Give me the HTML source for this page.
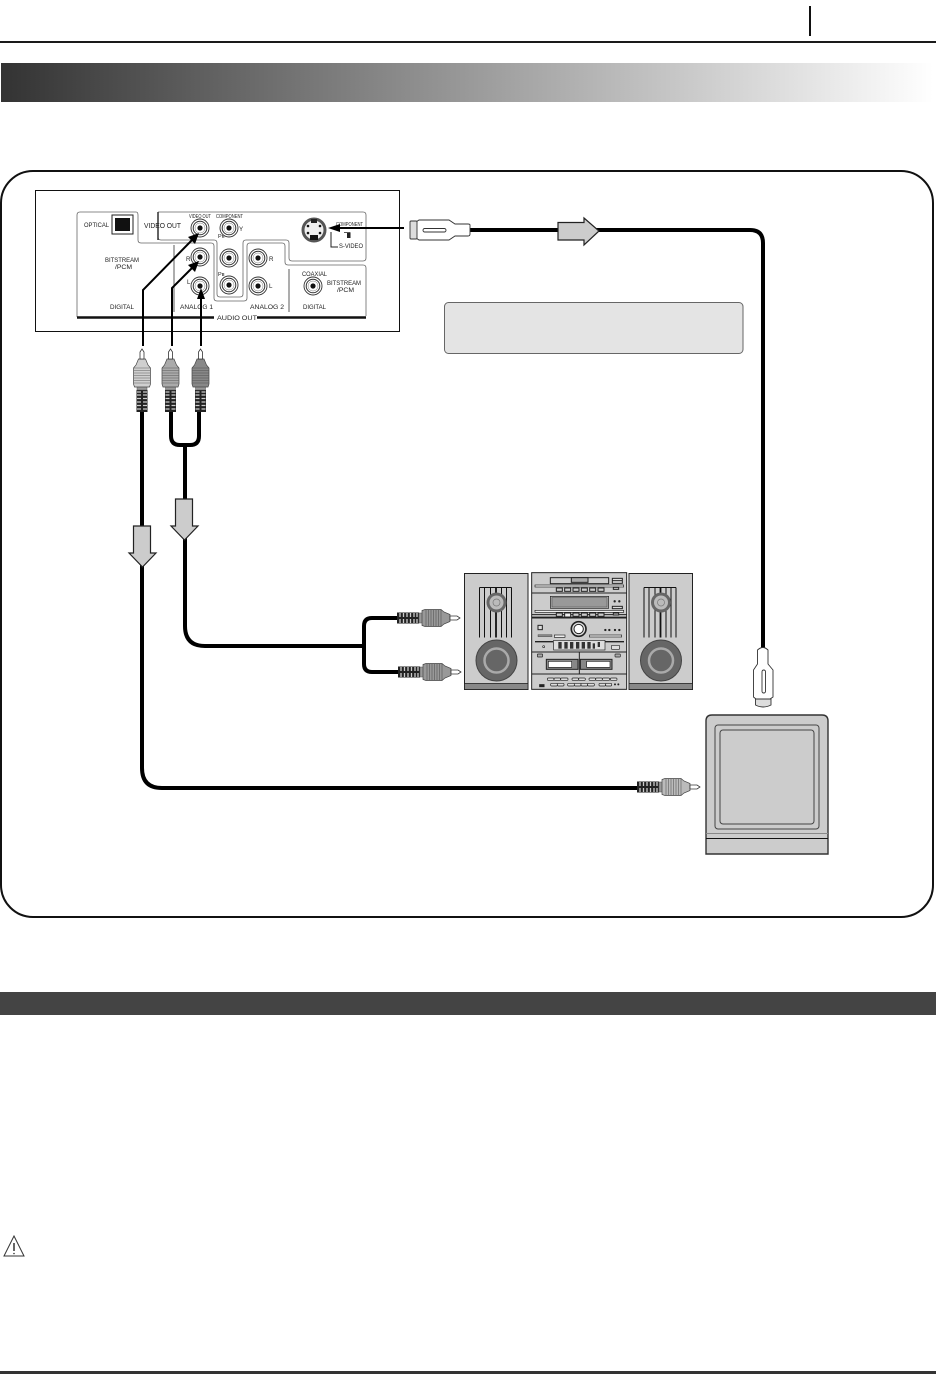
<!DOCTYPE html>
<html><head><meta charset="utf-8"><style>
html,body{margin:0;padding:0;background:#fff}
svg{display:block}
text{font-family:"Liberation Sans",sans-serif;fill:#222}
</style></head><body>
<svg width="936" height="1374" viewBox="0 0 936 1374" xmlns="http://www.w3.org/2000/svg">
<defs>
<linearGradient id="g"><stop offset="0" stop-color="#333"/><stop offset=".5" stop-color="#999"/><stop offset="1" stop-color="#fff"/></linearGradient>
<g id="rca">
  <rect x="0" y="-5.500" width="22" height="11" fill="#222"/>
  <path d="M3 -5V-1M3 1V5M6.500 -5V-1M6.500 1V5M10 -5V-1M10 1V5M13.500 -5V-1M13.500 1V5M17 -5V-1M17 1V5M20 -5V-1M20 1V5" stroke="#ccc" stroke-width="1.300"/>
  <path d="M22 -5H26V5H22Z" fill="#999" stroke="#555" stroke-width=".5"/>
  <path d="M25 -7.500L28 -8.500H44L47 -6L53 -3.500V3.500L47 6L44 8.500H28L25 7.500Z" fill="currentColor" stroke="#444" stroke-width=".7"/>
  <path d="M29 -8V8M31.500 -8V8M34 -8V8M36.500 -8V8M39 -8V8M41.500 -8V8M44 -8V8" stroke="#444" stroke-width=".6" opacity=".8"/>
  <path d="M53 -2H60L63 0L60 2H53Z" fill="#fff" stroke="#333" stroke-width=".8"/>
</g>
<g id="spk">
  <rect x="0" y="0" width="63.500" height="116" fill="#ccc" stroke="#222" stroke-width="1"/>
  <rect x="0" y="110" width="63.500" height="6" fill="#888" stroke="#222" stroke-width=".8"/>
  <path d="M15 14H47M15 14V64M47 14V64M20 14V64M26 14V64M37 14V64M42 14V64" stroke="#111" stroke-width="1" fill="none"/>
  <path d="M31.500 14V64" stroke="#111" stroke-width="1.800"/>
  <circle cx="32" cy="29" r="10" fill="#666"/>
  <circle cx="32" cy="29" r="7" fill="#bbb"/>
  <circle cx="32" cy="29" r="3.500" fill="#bbb" stroke="#777" stroke-width=".7"/>
  <circle cx="32" cy="87" r="20.500" fill="#666" stroke="#444"/>
  <circle cx="32" cy="87" r="12" fill="#666" stroke="#aaa" stroke-width="2.500"/>
</g>
<g id="jack">
  <circle r="9" fill="#fff" stroke="#333" stroke-width=".9"/>
  <circle r="6.800" fill="#fff" stroke="#333" stroke-width="1"/>
  <circle r="5" fill="#fff" stroke="#777" stroke-width=".5"/>
  <circle r="2.600" fill="#111"/>
</g>
</defs>

<!-- header -->
<rect x="809" y="6" width="2" height="30" fill="#111"/>
<rect x="0" y="41" width="936" height="2" fill="#1a1a1a"/>
<rect x="1" y="63" width="932" height="39" fill="url(#g)"/>

<!-- frame -->
<rect x="1" y="171" width="932" height="746" rx="32" fill="#fff" stroke="#111" stroke-width="2"/>

<!-- panel -->
<rect x="35.500" y="190.500" width="364" height="141" fill="#fff" stroke="#111" stroke-width="1"/>
<path d="M77 317V215Q77 212 80 212H136Q138 212 138 215V240Q138 243 141 243H211Q214 243 214 246V298Q214 301 217 301H244Q247 301 247 298V246Q247 243 250 243H282Q285 243 285 246V262Q285 265 288 265H363Q366 265 366 268V316" fill="none" stroke="#666" stroke-width=".8"/>
<path d="M158 212H363Q366 212 366 215V258Q366 261 363 261H292Q289 261 289 258V243Q289 240 286 240H246Q243 240 243 243V294Q243 297 240 297H220Q217 297 217 294V243Q217 240 214 240H161Q158 240 158 237" fill="none" stroke="#666" stroke-width=".8"/>
<path d="M158 212V240" stroke="#222" stroke-width="1.400"/>
<path d="M77 317.500H214M257 317.500H366" stroke="#111" stroke-width="2.500"/>
<path d="M174 245V312M289 269V312" stroke="#333" stroke-width=".8"/>
<rect x="112" y="215" width="21" height="19" fill="#fff" stroke="#222"/>
<rect x="115" y="218" width="15" height="13" fill="#111"/>

<g font-size="6.200">
<text x="84" y="227" textLength="25" lengthAdjust="spacingAndGlyphs">OPTICAL</text>
<text x="144" y="228" textLength="37" lengthAdjust="spacingAndGlyphs" font-size="7">VIDEO OUT</text>
<text x="189" y="218" textLength="22" lengthAdjust="spacingAndGlyphs" font-size="5.500">VIDEO OUT</text>
<text x="216" y="218" textLength="27" lengthAdjust="spacingAndGlyphs" font-size="5.500">COMPONENT</text>
<text x="239" y="231">Y</text>
<text x="105" y="262" textLength="34" lengthAdjust="spacingAndGlyphs">BITSTREAM</text>
<text x="115" y="269" textLength="17" lengthAdjust="spacingAndGlyphs">/PCM</text>
<text x="110" y="309" textLength="24" lengthAdjust="spacingAndGlyphs">DIGITAL</text>
<text x="180" y="309" textLength="33" lengthAdjust="spacingAndGlyphs">ANALOG 1</text>
<text x="250" y="309" textLength="34" lengthAdjust="spacingAndGlyphs">ANALOG 2</text>
<text x="303" y="309" textLength="23" lengthAdjust="spacingAndGlyphs">DIGITAL</text>
<text x="217" y="320" textLength="40" lengthAdjust="spacingAndGlyphs">AUDIO OUT</text>
<text x="186" y="261">R</text>
<text x="187" y="284">L</text>
<text x="218" y="238" font-size="5.500">Pʀ</text>
<text x="218" y="276" font-size="5.500">Pʙ</text>
<text x="269" y="261">R</text>
<text x="269" y="288">L</text>
<text x="302" y="276" textLength="25" lengthAdjust="spacingAndGlyphs">COAXIAL</text>
<text x="327" y="285" textLength="34" lengthAdjust="spacingAndGlyphs">BITSTREAM</text>
<text x="337" y="292" textLength="17" lengthAdjust="spacingAndGlyphs">/PCM</text>
<text x="336" y="226" textLength="27" lengthAdjust="spacingAndGlyphs" font-size="5.500">COMPONENT</text>
<text x="339" y="248" textLength="24" lengthAdjust="spacingAndGlyphs">S-VIDEO</text>
</g>

<use href="#jack" x="200" y="228"/><use href="#jack" x="229" y="228"/>
<use href="#jack" x="200" y="257"/><use href="#jack" x="200" y="286"/>
<use href="#jack" x="229" y="258"/><use href="#jack" x="229" y="285"/>
<use href="#jack" x="258" y="258"/><use href="#jack" x="258" y="286"/>
<use href="#jack" x="313" y="286"/>

<!-- s-video jack -->
<circle cx="314" cy="230" r="11" fill="#eee" stroke="#555" stroke-width="3"/>
<rect x="311" y="219" width="6" height="4" fill="#222"/>
<rect x="310" y="235" width="8" height="5" fill="#111"/>
<circle cx="308" cy="226" r="1.300" fill="#111"/><circle cx="320" cy="226" r="1.300" fill="#111"/>
<circle cx="308" cy="233" r="1.300" fill="#111"/><circle cx="320" cy="233" r="1.300" fill="#111"/>
<path d="M331 232V247H338" fill="none" stroke="#222" stroke-width="1"/>
<path d="M344 232.500H350V238" fill="none" stroke="#222" stroke-width=".8"/>
<rect x="347" y="233" width="3.500" height="5" fill="#222"/>

<!-- pointer arrows -->
<g fill="none" stroke="#000" stroke-width="2">
<path d="M143 346V290L194 238"/>
<path d="M172 346V288L194 266"/>
<path d="M201 346V296"/>
<path d="M404 228H338"/>
</g>
<g fill="#000">
<path d="M199 233L195 244L188 237Z"/>
<path d="M199 261L195 272L188 265Z"/>
<path d="M201 288L205 299H197Z"/>
<path d="M328 228L340 224V232Z"/>
</g>

<!-- cables -->
<g fill="none" stroke="#000" stroke-width="4">
<path d="M142 410V768Q142 788 162 788H640"/>
<path d="M171 410V436Q171 445 180 445H190Q199 445 199 436V410"/>
<path d="M185 445V626Q185 646 205 646H363"/>
<path d="M398 618H372Q364 618 364 626V664Q364 672 372 672H399"/>
<path d="M468 230H750Q763 230 763 243V650"/>
</g>

<!-- note box -->
<rect x="444.500" y="302.500" width="298.500" height="51" rx="4" fill="#e4e4e4" stroke="#666" stroke-width="1"/>

<!-- flow arrows -->
<g fill="#ccc" stroke="#222" stroke-width="1.200">
<path d="M558 222.500H584V218L599 231L584 245V240H558Z"/>
<path d="M133.500 526H150.500V553H156L142.500 567L129 553H133.500Z"/>
<path d="M175.500 499H192.500V526H198L184.500 540L171 526H175.500Z"/>
</g>

<!-- plugs -->
<use href="#rca" transform="translate(142 412) rotate(-90)" style="color:#cfcfcf"/>
<use href="#rca" transform="translate(170.500 412) rotate(-90)" style="color:#aaa"/>
<use href="#rca" transform="translate(200.500 412) rotate(-90)" style="color:#888"/>
<use href="#rca" transform="translate(397 618)" style="color:#999"/>
<use href="#rca" transform="translate(398 672)" style="color:#999"/>
<use href="#rca" transform="translate(637 787)" style="color:#bbb"/>

<!-- s-video plug horizontal -->
<g fill="#fff" stroke="#333" stroke-width=".9">
<path d="M470 225Q470 224 468 224H455L449 220H419L416 222V238L419 240H449L455 236H468Q470 236 470 234Z"/>
<rect x="410" y="221" width="7" height="18" rx="1" fill="#ddd"/>
<rect x="423" y="228.500" width="23" height="3.500" rx="1.700"/>
</g>
<!-- s-video plug vertical -->
<g fill="#fff" stroke="#333" stroke-width=".9">
<path d="M757.500 664V650Q763 645 768 650V664L773 670V697L770 699H756L753.500 697V670Z"/>
<path d="M755.500 699H771V705Q763 709 755.500 705Z" fill="#ddd"/>
<rect x="762" y="670" width="3.500" height="23" rx="1.700"/>
</g>

<!-- speakers -->
<use href="#spk" x="464.500" y="573.500"/>
<use href="#spk" x="629" y="573.500"/>

<!-- stereo unit -->
<g transform="translate(525 568) scale(.33333)" stroke="#222" stroke-width="3" fill="#ccc">
<rect x="20" y="14" width="285" height="350"/>
<path d="M20 75H305M20 140H305M20 150H305M20 252H305M20 318H305" fill="none"/>
<path d="M20 148H305" stroke-width="4" fill="none"/>
<path d="M163 252V318" fill="none"/>
<rect x="76" y="29" width="175" height="18"/><rect x="139" y="29" width="50" height="14" fill="#aaa"/>
<rect x="262" y="31" width="30" height="15" fill="#ddd"/><path d="M262 38H292" fill="none"/>
<rect x="30" y="51" width="266" height="6" fill="#eee" stroke-width="2"/>
<rect x="94" y="60" width="18" height="10"/><rect x="119" y="60" width="18" height="10"/><rect x="144" y="60" width="18" height="10"/><rect x="169" y="60" width="18" height="10"/><rect x="194" y="60" width="18" height="10"/><rect x="219" y="60" width="18" height="10"/>
<rect x="265" y="58" width="16" height="6"/>
<rect x="76" y="85" width="175" height="36" fill="#aaa" stroke-width="2"/>
<rect x="81" y="89" width="165" height="28" fill="#999" stroke-width="1"/>
<circle cx="269" cy="100" r="2" fill="#222"/><circle cx="283" cy="100" r="2" fill="#222"/>
<rect x="262" y="115" width="30" height="7" fill="#ddd"/>
<rect x="30" y="127" width="266" height="6" fill="#eee" stroke-width="2"/>
<rect x="94" y="135" width="18" height="10"/><rect x="119" y="135" width="18" height="12" fill="#eee"/><rect x="144" y="135" width="18" height="10"/><rect x="169" y="135" width="18" height="10"/><rect x="194" y="135" width="18" height="10"/><rect x="219" y="135" width="18" height="10"/><rect x="265" y="135" width="16" height="6"/>
<rect x="39" y="172" width="13" height="13" fill="#ddd"/>
<circle cx="161" cy="183" r="22" fill="#ddd" stroke-width="5"/>
<circle cx="161" cy="183" r="14" fill="#fff"/>
<circle cx="241" cy="186" r="2" fill="#222"/><circle cx="253" cy="186" r="2" fill="#222"/><circle cx="270" cy="186" r="2" fill="#222"/><circle cx="283" cy="186" r="2" fill="#222"/>
<rect x="39" y="200" width="42" height="6" fill="#888" stroke-width="1"/>
<rect x="88" y="201" width="32" height="7" fill="#eee" stroke-width="2"/>
<rect x="193" y="201" width="97" height="6" fill="#eee" stroke-width="2"/>
<path d="M30 221H84M240 221H297" fill="none" stroke-width="4"/>
<circle cx="56" cy="236" r="3" fill="#ddd" stroke-width="2"/>
<rect x="86" y="217" width="154" height="29" fill="#ddd" stroke-width="2"/>
<g fill="#333" stroke="none"><rect x="100" y="222" width="10" height="20"/><rect x="118" y="222" width="10" height="20"/><rect x="135" y="222" width="10" height="20"/><rect x="153" y="222" width="10" height="20"/><rect x="170" y="222" width="10" height="20"/><rect x="187" y="222" width="10" height="20"/><rect x="203" y="226" width="7" height="16"/><rect x="218" y="222" width="7" height="15"/></g>
<rect x="259" y="232" width="25" height="12" rx="3" fill="#ddd" stroke-width="2"/>
<rect x="37" y="258" width="16" height="9" rx="2" fill="#aaa" stroke-width="2"/>
<rect x="270" y="258" width="16" height="9" rx="2" fill="#aaa" stroke-width="2"/>
<rect x="64" y="274" width="95" height="30" fill="#888"/><rect x="70" y="280" width="70" height="18" fill="#fff" stroke-width="2"/>
<rect x="166" y="274" width="95" height="30" fill="#888"/><rect x="185" y="280" width="70" height="18" fill="#fff" stroke-width="2"/>
<g fill="#ddd" stroke-width="2">
<rect x="67" y="330" width="20" height="7" rx="3"/><rect x="87" y="330" width="20" height="7" rx="3"/><rect x="107" y="330" width="22" height="7" rx="3"/>
<rect x="141" y="330" width="20" height="7" rx="3"/><rect x="161" y="330" width="20" height="7" rx="3"/>
<rect x="192" y="330" width="20" height="7" rx="3"/><rect x="212" y="330" width="20" height="7" rx="3"/><rect x="232" y="330" width="22" height="7" rx="3"/><rect x="256" y="330" width="20" height="7" rx="3"/>
<rect x="77" y="346" width="20" height="8" rx="3"/><rect x="97" y="346" width="20" height="8" rx="3"/><rect x="128" y="346" width="20" height="8" rx="3"/><rect x="148" y="346" width="20" height="8" rx="3"/><rect x="168" y="346" width="20" height="8" rx="3"/><rect x="188" y="346" width="20" height="8" rx="3"/><rect x="222" y="346" width="20" height="8" rx="3"/><rect x="242" y="346" width="18" height="8" rx="3"/>
</g>
<rect x="44" y="350" width="13" height="6" fill="#222"/>
<circle cx="270" cy="349" r="1.500" fill="#222"/><circle cx="280" cy="349" r="1.500" fill="#222"/>
</g>

<!-- TV -->
<path d="M706 854V721Q706 715 712 715H822Q828 715 828 721V854Z" fill="#ccc" stroke="#333" stroke-width="1.400"/>
<rect x="715" y="725" width="104" height="104" rx="3" fill="#ccc" stroke="#444" stroke-width="1"/>
<rect x="720" y="730" width="94" height="94" rx="3" fill="#ccc" stroke="#444" stroke-width="1"/>
<path d="M706 833.500H828" stroke="#888" stroke-width="1"/>
<path d="M706 838.500H828" stroke="#111" stroke-width="1"/>

<!-- dark bar -->
<rect x="0" y="992" width="936" height="23" fill="#444"/>

<!-- warning -->
<path d="M14 1236L24 1256H4Z" fill="#fff" stroke="#333" stroke-width="1"/>
<path d="M14 1243V1251" stroke="#333" stroke-width="1.500"/>
<circle cx="14" cy="1253.500" r=".8" fill="#333"/>

<!-- bottom line -->
<rect x="0" y="1371" width="936" height="3" fill="#333"/>
</svg>
</body></html>
